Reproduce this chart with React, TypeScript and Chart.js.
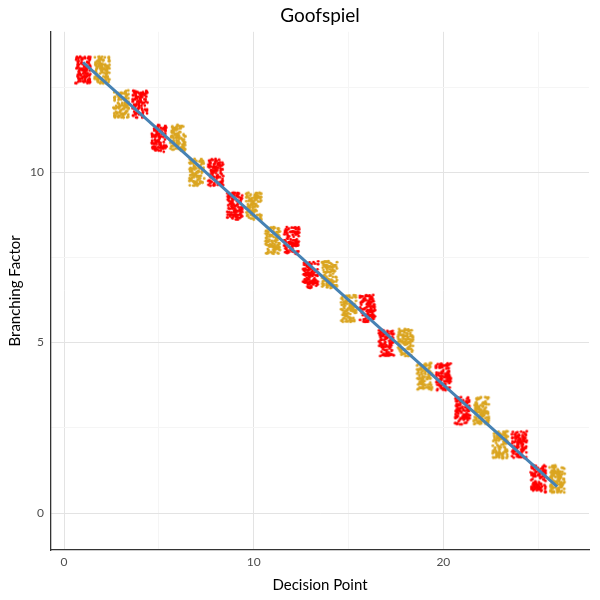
import React, { useEffect, useRef } from 'react';
import { Chart, registerables } from 'chart.js';

Chart.register(...registerables);

// ---- data ----
const decisionPoints = [1, 2, 3, 4, 5, 6, 7, 8, 9, 10, 11, 12, 13, 14, 15, 16, 17, 18, 19, 20, 21, 22, 23, 24, 25, 26];
const branchingFactor = [13, 13, 12, 12, 11, 11, 10, 10, 9, 9, 8, 8, 7, 7, 6, 6, 5, 5, 4, 4, 3, 3, 2, 2, 1, 1];
const playerToMove = [1, 2, 2, 1, 1, 2, 2, 1, 1, 2, 2, 1, 1, 2, 2, 1, 1, 2, 2, 1, 1, 2, 2, 1, 1, 2];
const playerColors = ['#FF0000', '#DAA520'];
const xTickLabels = [0, 10, 20];
const yTickLabels = [0, 5, 10];

const TITLE = 'Goofspiel';
const X_LABEL = 'Decision Point';
const Y_LABEL = 'Branching Factor';

// ---- styling ----
const FONT = 'Lato, "Open Sans", sans-serif';
const JITTER = 0.4; // +/- jitter extent (data units) of the point clouds
const X_RANGE = [-0.69, 27.68];
const Y_RANGE = [-1.085, 14.12];

function linearFit(xs: number[], ys: number[]) {
  const n = xs.length;
  const mx = xs.reduce((a, b) => a + b, 0) / n;
  const my = ys.reduce((a, b) => a + b, 0) / n;
  let sxy = 0, sxx = 0;
  for (let i = 0; i < n; i++) {
    sxy += (xs[i] - mx) * (ys[i] - my);
    sxx += (xs[i] - mx) * (xs[i] - mx);
  }
  const slope = sxy / sxx;
  return { slope, intercept: my - slope * mx };
}

// marker texture: a stippled cloud of dots filling the jitter box (purely decorative)
function stipple(seed: number) {
  let a = (seed * 2654435761) >>> 0;
  return () => {
    a = (a + 0x6d2b79f5) >>> 0;
    let t = a;
    t = Math.imul(t ^ (t >>> 15), t | 1);
    t ^= t + Math.imul(t ^ (t >>> 7), t | 61);
    return ((t ^ (t >>> 14)) >>> 0) / 4294967296;
  };
}

const spriteCache = new Map<string, HTMLCanvasElement>();
function cloudSprite(color: string, w: number, h: number, seed: number): HTMLCanvasElement {
  const key = `${color}|${w.toFixed(1)}|${h.toFixed(1)}|${seed}`;
  const cached = spriteCache.get(key);
  if (cached) return cached;
  const dot = 1.4;
  const c = document.createElement('canvas');
  c.width = Math.ceil(w + dot * 2 + 2);
  c.height = Math.ceil(h + dot * 2 + 2);
  const g = c.getContext('2d')!;
  g.fillStyle = color;
  const cx = c.width / 2;
  const cy = c.height / 2;
  const next = stipple(seed + 11);
  const count = 110;
  for (let k = 0; k < count; k++) {
    const u = next();
    const v = next();
    g.beginPath();
    g.arc(cx + (u - 0.5) * w, cy + (v - 0.5) * h, dot, 0, Math.PI * 2);
    g.fill();
  }
  spriteCache.set(key, c);
  return c;
}

function makeCloudStyle(color: string) {
  return (ctx: any) => {
    const chart = ctx.chart;
    const xs = chart.scales?.x;
    const ys = chart.scales?.y;
    if (!xs || !ys || ctx.type !== 'data') return 'circle';
    const w = Math.abs(xs.getPixelForValue(2 * JITTER) - xs.getPixelForValue(0));
    const h = Math.abs(ys.getPixelForValue(2 * JITTER) - ys.getPixelForValue(0));
    const raw = ctx.raw as { x: number };
    return cloudSprite(color, w, h, raw.x);
  };
}

export default function App() {
  const canvasRef = useRef<HTMLCanvasElement | null>(null);

  useEffect(() => {
    if (!canvasRef.current) return;
    const fit = linearFit(decisionPoints, branchingFactor);
    const xFirst = decisionPoints[0];
    const xLast = decisionPoints[decisionPoints.length - 1];

    const playerData = (p: number) =>
      decisionPoints
        .map((x, i) => ({ x, y: branchingFactor[i], p: playerToMove[i] }))
        .filter((d) => d.p === p)
        .map((d) => ({ x: d.x, y: d.y }));

    const chart = new Chart(canvasRef.current, {
      type: 'scatter',
      data: {
        datasets: [
          {
            type: 'line',
            label: 'fit',
            data: [
              { x: xFirst, y: fit.intercept + fit.slope * xFirst },
              { x: xLast, y: fit.intercept + fit.slope * xLast },
            ],
            borderColor: '#4682B4',
            borderWidth: 3,
            pointRadius: 0,
            fill: false,
            order: 0,
          } as any,
          {
            label: 'Player 1',
            data: playerData(1),
            pointStyle: makeCloudStyle(playerColors[0]) as any,
            pointRadius: 10,
            backgroundColor: playerColors[0],
            borderColor: playerColors[0],
            order: 1,
          },
          {
            label: 'Player 2',
            data: playerData(2),
            pointStyle: makeCloudStyle(playerColors[1]) as any,
            pointRadius: 10,
            backgroundColor: playerColors[1],
            borderColor: playerColors[1],
            order: 1,
          },
        ],
      },
      options: {
        responsive: false,
        animation: false,
        layout: { padding: { left: 0, right: 5, top: 0, bottom: 0 } },
        plugins: {
          legend: { display: false },
          tooltip: { enabled: false },
          title: {
            display: true,
            text: TITLE,
            fullSize: false,
            color: '#000',
            font: { family: FONT, size: 19, weight: 'normal' },
            padding: { top: 4, bottom: 5 },
          },
        },
        scales: {
          x: {
            type: 'linear',
            min: X_RANGE[0],
            max: X_RANGE[1],
            afterFit: (s: any) => {
              s.height = 50;
            },
            ticks: {
              stepSize: 5,
              includeBounds: false,
              autoSkip: false,
              maxRotation: 0,
              padding: 5,
              color: '#4d4d4d',
              font: { family: FONT, size: 12 },
              callback: (v: any) => (xTickLabels.includes(Number(v)) ? String(v) : ''),
            },
            grid: {
              drawTicks: false,
              lineWidth: 1,
              color: (c: any) => (c.tick && xTickLabels.includes(c.tick.value) ? '#e3e3e3' : '#f5f5f5'),
            },
            border: { display: true, color: '#333333', width: 1.3 },
            title: {
              display: true,
              text: X_LABEL,
              color: '#000',
              font: { family: FONT, size: 15 },
              padding: { top: 0, bottom: 6 },
            },
          },
          y: {
            type: 'linear',
            min: Y_RANGE[0],
            max: Y_RANGE[1],
            afterFit: (s: any) => {
              s.width = 51;
            },
            ticks: {
              stepSize: 2.5,
              includeBounds: false,
              autoSkip: false,
              padding: 7,
              color: '#4d4d4d',
              font: { family: FONT, size: 12 },
              callback: (v: any) => (yTickLabels.includes(Number(v)) ? String(v) : ''),
            },
            grid: {
              drawTicks: false,
              lineWidth: 1,
              color: (c: any) => (c.tick && yTickLabels.includes(c.tick.value) ? '#e3e3e3' : '#f5f5f5'),
            },
            border: { display: true, color: '#333333', width: 1.3 },
            title: {
              display: true,
              text: Y_LABEL,
              color: '#000',
              font: { family: FONT, size: 15 },
              padding: { top: 6, bottom: 6 },
            },
          },
        },
      },
    });
    return () => chart.destroy();
  }, []);

  return (
    <div style={{ position: 'absolute', left: 0, top: 0, width: 600, height: 600, background: '#fff' }}>
      <canvas ref={canvasRef} width={600} height={600} />
    </div>
  );
}
